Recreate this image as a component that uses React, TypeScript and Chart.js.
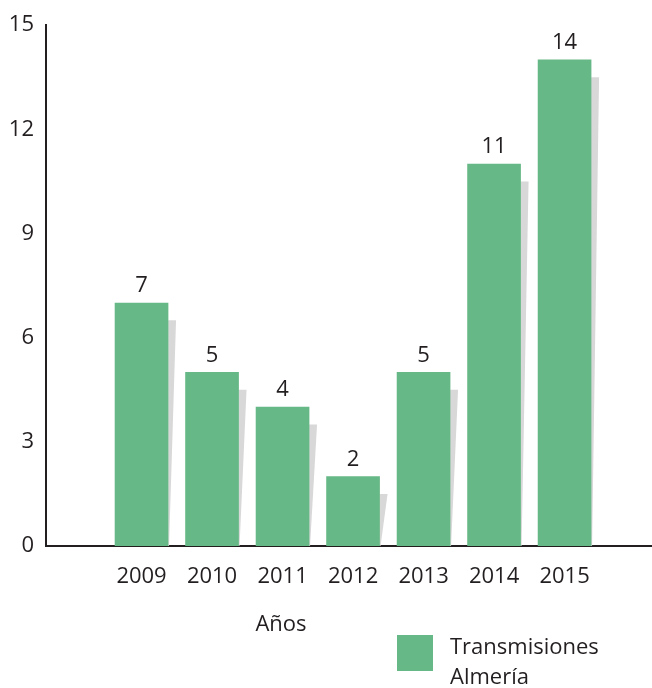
import React, { useEffect, useRef } from "react";
import { Chart, registerables } from "chart.js";

Chart.register(...registerables);

const categories = ["2009", "2010", "2011", "2012", "2013", "2014", "2015"];
const values = [7, 5, 4, 2, 5, 11, 14];
const yTicks = [0, 3, 6, 9, 12, 15];
const seriesName = ["Transmisiones", "Almería"];
const axisTitle = "Años";

const FONT = "'Open Sans', 'Noto Sans', sans-serif";
const GREEN = "#66b886";
const SHADOW = "#d8d8d8";
const INK = "#231f20";

const decorPlugin = {
  id: "decor",
  beforeDatasetsDraw(chart: any) {
    const { ctx } = chart;
    const meta = chart.getDatasetMeta(0);
    const ys = chart.scales.y;
    ctx.save();
    ctx.fillStyle = SHADOW;
    meta.data.forEach((bar: any, i: number) => {
      const right = bar.x + bar.width / 2;
      const top = ys.getPixelForValue(Math.max(values[i] - 0.5, 0));
      const bottom = ys.getPixelForValue(0);
      ctx.beginPath();
      ctx.moveTo(right, top);
      ctx.lineTo(right + 8, top);
      ctx.lineTo(right + 1, bottom);
      ctx.lineTo(right, bottom);
      ctx.closePath();
      ctx.fill();
    });
    ctx.restore();
  },
  afterDraw(chart: any) {
    const { ctx } = chart;
    const meta = chart.getDatasetMeta(0);
    ctx.save();
    ctx.fillStyle = INK;
    ctx.font = `22px ${FONT}`;
    ctx.textAlign = "center";
    ctx.textBaseline = "bottom";
    meta.data.forEach((bar: any, i: number) => {
      ctx.fillText(String(values[i]), bar.x, bar.y - 6);
    });
    // axis title
    ctx.textBaseline = "middle";
    ctx.fillText(axisTitle, 281, 625);
    // legend
    ctx.fillStyle = GREEN;
    ctx.fillRect(397, 635, 36, 36);
    ctx.fillStyle = INK;
    ctx.textAlign = "left";
    ctx.fillText(seriesName[0], 450, 648);
    ctx.fillText(seriesName[1], 450, 678);
    ctx.restore();
  },
};

export default function App() {
  const ref = useRef<HTMLCanvasElement>(null);
  useEffect(() => {
    if (!ref.current) return;
    const chart = new Chart(ref.current, {
      type: "bar",
      data: {
        datasets: [
          {
            label: seriesName.join(" "),
            data: categories.map((c, i) => ({ x: Number(c), y: values[i] })),
            backgroundColor: GREEN,
            borderWidth: 0,
            barThickness: 53,
          },
        ],
      },
      options: {
        responsive: false,
        animation: false,
        layout: { padding: { top: 22, right: 0, left: 0, bottom: 0 } },
        plugins: { legend: { display: false }, tooltip: { enabled: false } },
        scales: {
          x: {
            type: "linear",
            offset: false,
            min: 2007.645,
            max: 2016.24,
            grid: { display: false, drawTicks: false, offset: false },
            border: { display: true, color: INK, width: 2 },
            ticks: {
              color: INK,
              font: { family: FONT, size: 22 },
              padding: 18,
              autoSkip: false,
              maxRotation: 0,
              callback: (v: any) => String(v),
            },
            afterBuildTicks: (scale: any) => {
              scale.ticks = categories.map((c) => ({ value: Number(c) }));
            },
            afterFit: (scale: any) => {
              scale.height = 142;
            },
          },
          y: {
            min: 0,
            max: 15,
            grid: { display: false, drawTicks: false },
            border: { display: true, color: INK, width: 2 },
            ticks: {
              color: INK,
              font: { family: FONT, size: 22 },
              padding: 12,
              stepSize: 3,
            },
            afterBuildTicks: (scale: any) => {
              scale.ticks = yTicks.map((v) => ({ value: v }));
            },
            afterFit: (scale: any) => {
              scale.width = 46;
            },
          },
        },
      },
      plugins: [decorPlugin],
    });
    return () => chart.destroy();
  }, []);
  return (
    <div style={{ position: "fixed", left: 0, top: 0, width: 652, height: 688, background: "#fff" }}>
      <canvas ref={ref} width={652} height={688} style={{ display: "block" }} />
    </div>
  );
}
